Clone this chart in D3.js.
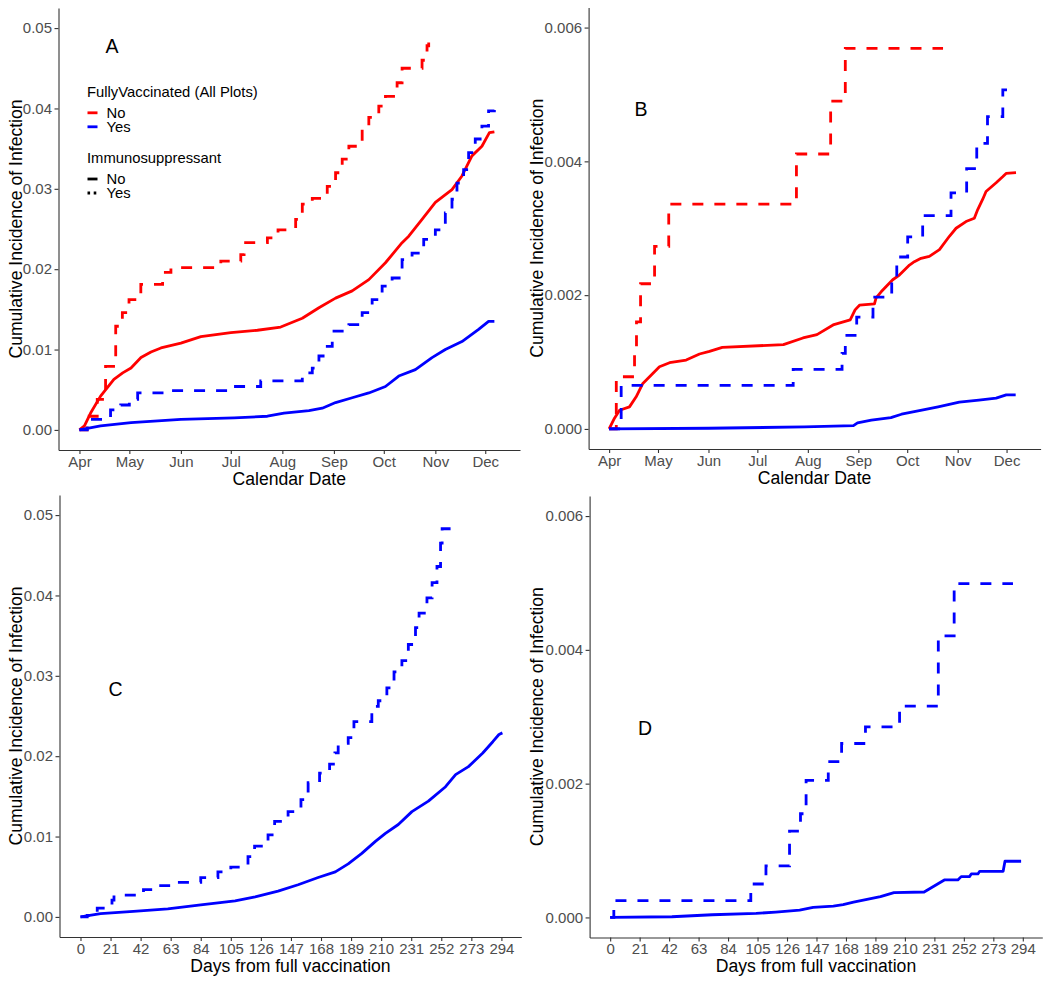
<!DOCTYPE html>
<html><head><meta charset="utf-8">
<script src="https://cdn.jsdelivr.net/npm/d3@7"></script>
<style>
body{margin:0;background:#fff}
svg{display:block;font-family:"Liberation Sans",Arial,Helvetica,sans-serif}
</style>
</head><body>
<svg id="chart" width="1050" height="984"></svg>
<script>
// ---------- tick labels ----------
const monthLabels = ["Apr","May","Jun","Jul","Aug","Sep","Oct","Nov","Dec"];
const dayTicks = [0,21,42,63,84,105,126,147,168,189,210,231,252,273,294];
const yTicksAC = [0,0.01,0.02,0.03,0.04,0.05];
const yTicksBD = [0,0.002,0.004,0.006];
const panelLetters = ["A","B","C","D"];

// ---------- series: [day, cumulative incidence] ----------
// Panel A (days from Apr 1)
const aNoVaxNoImm = [[0,0],[3,0.0005],[6.7,0.0021],[12.7,0.0042],[20.7,0.0063],[26,0.0071],[31,0.0077],[37,0.0090],[43,0.0097],[49,0.0102],[61,0.0108],[73,0.0116],[91,0.0121],[107,0.0124],[121,0.0128],[134,0.0139],[144,0.0152],[154,0.0164],[164,0.0173],[174,0.0187],[184,0.0208],[194,0.0233],[198,0.0241],[206,0.0262],[214,0.0283],[224,0.0299],[230,0.0316],[236,0.0341],[242,0.0353],[246.5,0.0370],[249.5,0.0371]];
const aNoVaxImm = [[0,0],[4.6,0.0017],[10.7,0.0038],[15.7,0.0079],[21.8,0.0129],[25.8,0.0146],[29.8,0.0162],[36.9,0.0181],[50,0.0196],[55,0.0202],[85,0.0210],[97,0.0218],[99,0.0233],[113,0.0239],[119.4,0.0249],[130,0.0262],[134,0.0281],[140,0.0288],[149,0.0303],[154,0.0320],[158,0.0337],[162,0.0353],[170,0.0374],[174,0.0389],[180,0.0403],[184,0.0415],[191,0.0432],[194,0.0450],[206,0.0460],[209,0.0478],[210,0.0482]];
const aVaxNoImm = [[0,0],[12.7,0.0005],[31,0.0009],[61,0.0013],[93,0.0015],[113,0.0017],[123,0.0021],[138,0.0024],[146,0.0027],[154,0.0034],[164,0.0040],[174,0.0046],[184,0.0054],[192,0.0067],[202,0.0075],[212,0.0090],[220,0.0100],[230,0.0110],[240,0.0125],[246,0.0135],[249.5,0.0135]];
const aVaxImm = [[0,0],[4.7,0.0013],[18.7,0.0025],[24.8,0.0031],[30,0.0038],[35,0.0046],[55,0.0049],[91,0.0054],[109,0.0061],[134,0.0071],[140,0.0077],[144,0.0092],[148,0.0104],[152,0.0123],[162,0.0131],[170,0.0146],[176,0.0162],[182,0.0179],[188,0.0189],[194,0.0212],[200,0.0220],[207,0.0237],[214,0.0249],[220,0.0270],[224,0.0287],[227,0.0307],[231,0.0324],[234,0.0345],[238,0.0362],[242,0.0378],[246,0.0397],[249.5,0.0398]];

// Panel B (days from Apr 1)
const bNoVaxNoImm = [[0,0],[3.3,0.00016],[6.4,0.00028],[12.5,0.00033],[16.6,0.00048],[20.7,0.00068],[26.8,0.00083],[30.9,0.00093],[37.1,0.00099],[47.3,0.00103],[55.5,0.00112],[61.6,0.00116],[69.5,0.00122],[107,0.00126],[119,0.00136],[127.6,0.00141],[138,0.00156],[148,0.00163],[151,0.00178],[153.7,0.00185],[162.9,0.00187],[163.9,0.00196],[167,0.00205],[170.1,0.00213],[174.1,0.00223],[178.2,0.00230],[184.4,0.00245],[187.4,0.00250],[191.5,0.00255],[196.6,0.00258],[202.8,0.00268],[208.9,0.00288],[213,0.00300],[219.1,0.00310],[224.2,0.00315],[226.3,0.00328],[229.3,0.00343],[231.4,0.00355],[237.6,0.00368],[241.6,0.00377],[243.7,0.00382],[249.8,0.00383]];
const bNoVaxImm = [[0,0],[4.4,0.00078],[15.6,0.0012],[16.8,0.0016],[19.3,0.00217],[27.9,0.00273],[36.6,0.00336],[115,0.00411],[136,0.00490],[145,0.00569],[205,0.00569]];
const bVaxNoImm = [[0,0],[61,0.00001],[120,0.00003],[150,0.00005],[152.5,0.00009],[161,0.00013],[173,0.00017],[179.5,0.00022],[192,0.00028],[202,0.00033],[215,0.00040],[227,0.00043],[237.6,0.00046],[243.8,0.00051],[249.6,0.00051]];
const bVaxImm = [[0,0],[7.4,0.00065],[113,0.00089],[143,0.00113],[145,0.00140],[152,0.00167],[162,0.00197],[173.5,0.00223],[176.6,0.00257],[183.3,0.00287],[192.5,0.00319],[209.9,0.00353],[219.5,0.00389],[225.7,0.00427],[232.3,0.00467],[241.7,0.00507],[244.7,0.00507]];

// Panel C (days from full vaccination)
const cVaxNoImm = [[0,0],[14,0.0004],[37,0.0007],[61,0.0010],[84,0.0015],[108,0.0020],[122,0.0025],[138,0.0032],[152,0.0040],[166,0.0049],[178,0.0056],[187,0.0066],[196.5,0.0079],[206,0.0094],[213,0.0104],[222,0.0115],[231.5,0.0131],[243,0.0144],[255,0.0162],[262,0.0177],[271,0.0187],[281,0.0204],[288,0.0218],[292.3,0.0227],[294.7,0.0229]];
const cVaxImm = [[0,0],[4.7,0.0002],[11.7,0.0011],[22,0.0021],[23.4,0.0027],[44,0.0034],[56,0.0039],[68,0.0043],[84,0.0049],[96,0.0056],[105,0.0062],[117,0.0075],[121.6,0.0088],[131,0.0102],[135.6,0.0119],[145,0.0131],[154,0.0146],[159,0.0167],[167,0.0179],[174,0.0190],[177.7,0.0204],[180,0.0216],[187,0.0223],[191,0.0243],[203.5,0.0262],[208,0.0269],[214,0.0285],[219,0.0305],[224.5,0.0319],[229,0.0339],[234,0.0360],[236.5,0.0378],[242,0.0397],[245.6,0.0416],[249,0.0436],[251.5,0.0465],[252.6,0.0483],[258.5,0.0483]];

// Panel D (days from full vaccination)
const dVaxNoImm = [[0,0],[44,0.00001],[72.7,0.00004],[104,0.00006],[118,0.00008],[135,0.00011],[144.6,0.00015],[159,0.00017],[166,0.00019],[173.4,0.00023],[183,0.00027],[192.6,0.00031],[202.2,0.00037],[223.7,0.00038],[228.5,0.00044],[233.3,0.00050],[238.1,0.00056],[247.7,0.00056],[250.1,0.00061],[256,0.00061],[257.3,0.00065],[262,0.00065],[263.3,0.00069],[280,0.00069],[281.3,0.00084],[292.8,0.00084]];
const dVaxImm = [[0,0],[2.6,0.00025],[100.2,0.00050],[111,0.00077],[127.8,0.00129],[135.6,0.00155],[139.6,0.00205],[155.4,0.00233],[164.9,0.00260],[181.9,0.00285],[206.2,0.00316],[233.8,0.00421],[245.1,0.00499],[287,0.00499]];

// ---------- styling ----------
const RED = "#FF0000", BLUE = "#0000FF";
const LW = 2.8, DASH = "11,11";
const TICK_FS = 15, TITLE_FS = 17.6, LEG_FS = 14.8, LETTER_FS = 19.5;
const AXIS_COL = "#333333", TICK_TXT = "#4D4D4D";

const svg = d3.select("#chart");
const base = Date.UTC(2021, 3, 1);
const toDate = d => new Date(base + d * 86400000);
const monthDates = monthLabels.map((m, i) => new Date(Date.UTC(2021, 3 + i, 1)));

const panels = [
  {letter: panelLetters[0], time: true, xr: [58.5, 520], yr: [450, 8], ydom: [-0.0025, 0.0525], yt: yTicksAC, yf: ".2f",
   ylabX: 22, xTitle: "Calendar Date", xTitleY: 484.5, letterPos: [112, 53],
   series: [[aNoVaxNoImm, RED, false], [aNoVaxImm, RED, true], [aVaxNoImm, BLUE, false], [aVaxImm, BLUE, true]]},
  {letter: panelLetters[1], time: true, xr: [588.6, 1040.6], yr: [449, 7.5], ydom: [-0.0003, 0.0063], yt: yTicksBD, yf: ".3f",
   ylabX: 543, xTitle: "Calendar Date", xTitleY: 484, letterPos: [641, 116],
   series: [[bNoVaxNoImm, RED, false], [bNoVaxImm, RED, true], [bVaxNoImm, BLUE, false], [bVaxImm, BLUE, true]]},
  {letter: panelLetters[2], time: false, xr: [59.5, 521.3], yr: [937, 495], ydom: [-0.0025, 0.0525], yt: yTicksAC, yf: ".2f",
   ylabX: 22, xTitle: "Days from full vaccination", xTitleY: 972, letterPos: [115.5, 696],
   series: [[cVaxNoImm, BLUE, false], [cVaxImm, BLUE, true]]},
  {letter: panelLetters[3], time: false, xr: [589.6, 1042.3], yr: [937.5, 496], ydom: [-0.0003, 0.0063], yt: yTicksBD, yf: ".3f",
   ylabX: 543, xTitle: "Days from full vaccination", xTitleY: 972, letterPos: [645, 735],
   series: [[dVaxNoImm, BLUE, false], [dVaxImm, BLUE, true]]}
];

panels.forEach(p => {
  const g = svg.append("g");
  let x, xAxis, xv;
  if (p.time) {
    x = d3.scaleUtc().domain([toDate(-12.6), toDate(264.9)]).range(p.xr);
    xAxis = d3.axisBottom(x).tickValues(monthDates).tickFormat((d, i) => monthLabels[i]);
    xv = d => x(toDate(d));
  } else {
    x = d3.scaleLinear().domain([-14.66, 307.9]).range(p.xr);
    xAxis = d3.axisBottom(x).tickValues(dayTicks).tickFormat(d3.format("d"));
    xv = d => x(d);
  }
  const y = d3.scaleLinear().domain(p.ydom).range(p.yr);
  const yAxis = d3.axisLeft(y).tickValues(p.yt).tickFormat(d3.format(p.yf));

  // lines
  p.series.forEach(([data, col, dashed]) => {
    const line = d3.line().x(d => xv(d[0])).y(d => y(d[1]))
      .curve(dashed ? d3.curveStepAfter : d3.curveLinear);
    g.append("path").datum(data).attr("d", line)
      .attr("fill", "none").attr("stroke", col).attr("stroke-width", LW)
      .attr("stroke-linejoin", dashed ? "miter" : "round")
      .attr("stroke-dasharray", dashed ? DASH : null);
  });

  // axes
  const gx = g.append("g").attr("transform", `translate(0,${p.yr[0]})`)
    .call(xAxis.tickSize(4).tickPadding(2).tickSizeOuter(0));
  const gy = g.append("g").attr("transform", `translate(${p.xr[0]},0)`)
    .call(yAxis.tickSize(4).tickPadding(2.5).tickSizeOuter(0));
  [gx, gy].forEach(a => {
    a.select(".domain").attr("stroke", AXIS_COL).attr("stroke-width", 1.1);
    a.selectAll(".tick line").attr("stroke", AXIS_COL).attr("stroke-width", 1.1);
    a.selectAll(".tick text").attr("fill", TICK_TXT).style("font-size", TICK_FS + "px")
      .style("font-family", '"Liberation Sans",Arial,sans-serif');
  });

  // axis titles
  g.append("text").attr("x", (p.xr[0] + p.xr[1]) / 2).attr("y", p.xTitleY)
    .attr("text-anchor", "middle").style("font-size", TITLE_FS + "px").attr("fill", "#000")
    .text(p.xTitle);
  g.append("text")
    .attr("transform", `translate(${p.ylabX},${(p.yr[0] + p.yr[1]) / 2}) rotate(-90)`)
    .attr("text-anchor", "middle").style("font-size", TITLE_FS + "px").attr("fill", "#000")
    .text("Cumulative Incidence of Infection");

  // panel letter
  g.append("text").attr("x", p.letterPos[0]).attr("y", p.letterPos[1])
    .attr("text-anchor", "middle").style("font-size", LETTER_FS + "px").attr("fill", "#000")
    .text(p.letter);
});

// ---------- legend (panel A) ----------
const legendColor = [["No", RED], ["Yes", BLUE]];
const legendType = [["No", null], ["Yes", "2.6,3.6"]];
const lg = svg.append("g").style("font-size", LEG_FS + "px");
lg.append("text").attr("x", 87).attr("y", 96.5).text("FullyVaccinated (All Plots)");
legendColor.forEach(([lab, col], i) => {
  const by = 117.8 + i * 14;
  lg.append("line").attr("x1", 87.5).attr("x2", 97.5).attr("y1", by - 5).attr("y2", by - 5)
    .attr("stroke", col).attr("stroke-width", 2.8);
  lg.append("text").attr("x", 106.5).attr("y", by).text(lab);
});
lg.append("text").attr("x", 87).attr("y", 163).text("Immunosuppressant");
legendType.forEach(([lab, dash], i) => {
  const by = 184 + i * 14;
  lg.append("line").attr("x1", 87.5).attr("x2", 97.5).attr("y1", by - 5).attr("y2", by - 5)
    .attr("stroke", "#000").attr("stroke-width", 2.8).attr("stroke-dasharray", dash);
  lg.append("text").attr("x", 106.5).attr("y", by).text(lab);
});
</script>
</body></html>
